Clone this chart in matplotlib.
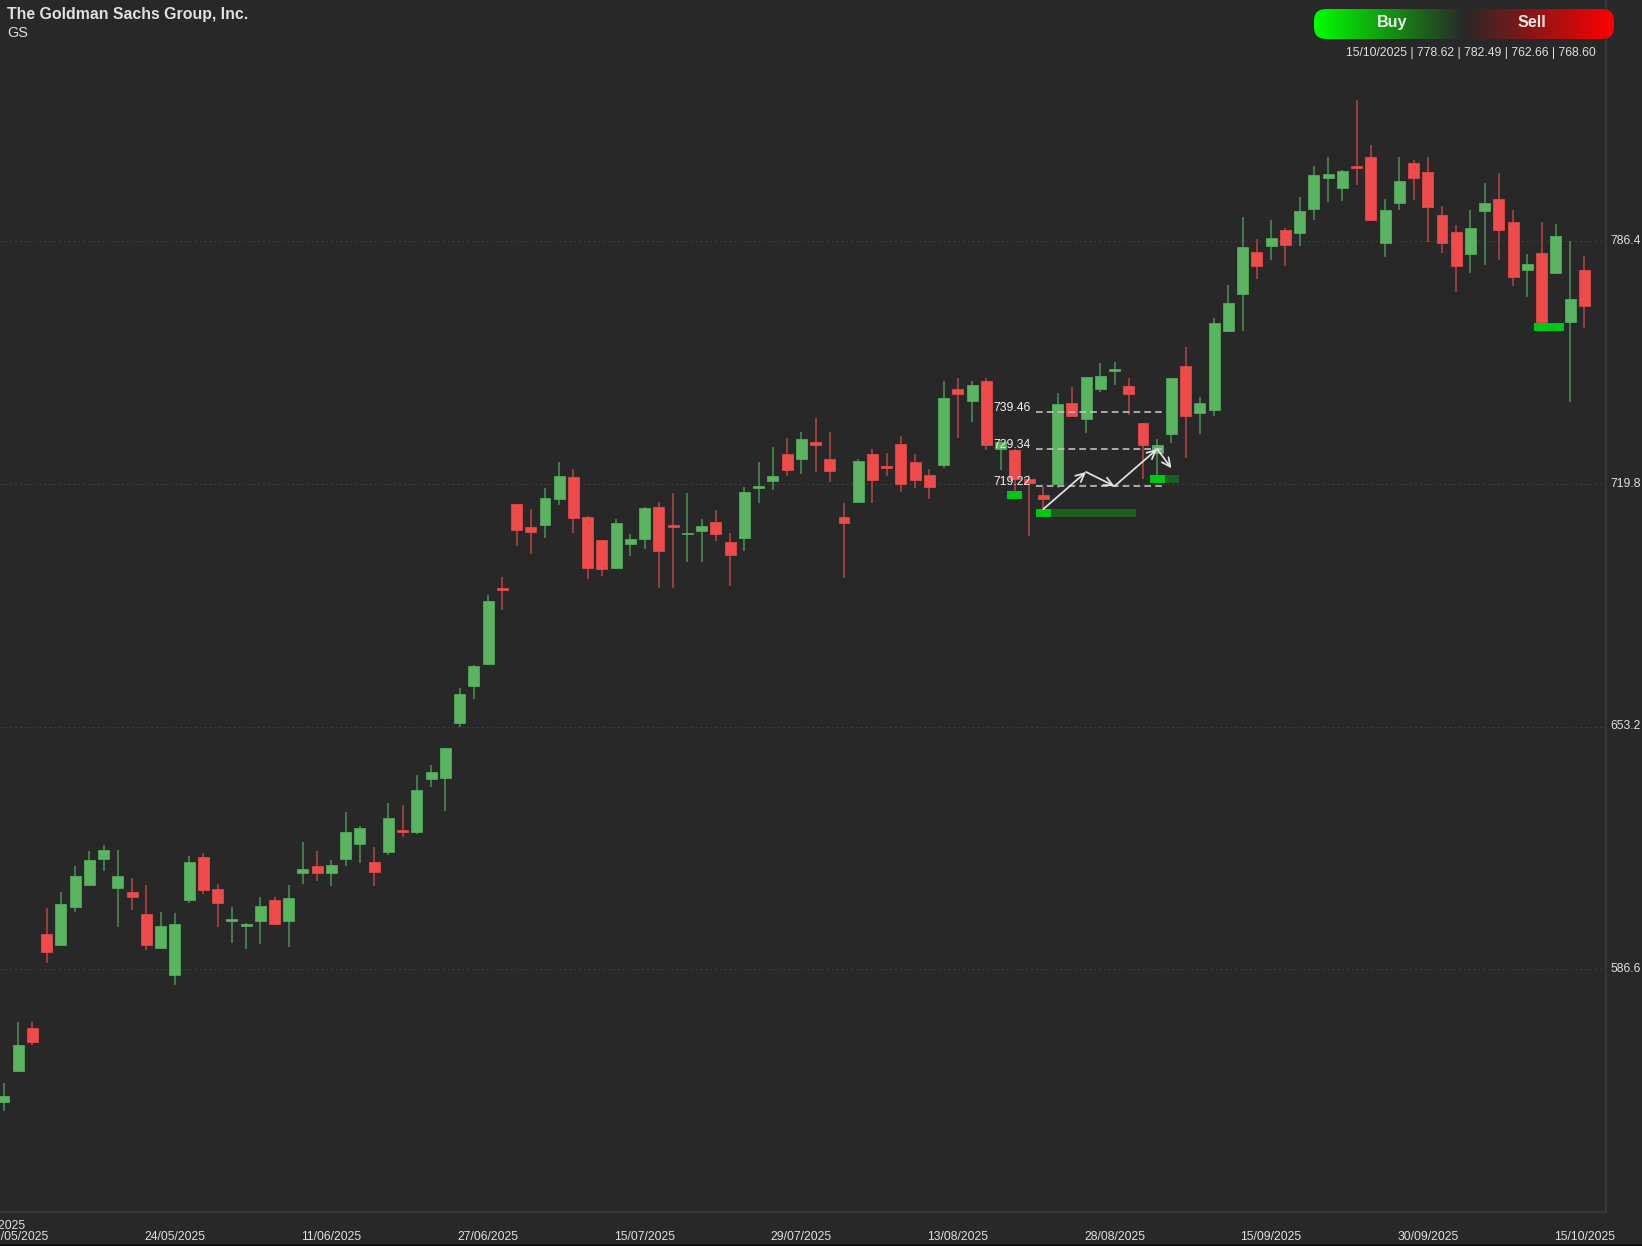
import matplotlib
matplotlib.use('Agg')
import matplotlib.pyplot as plt
import numpy as np
from matplotlib.patches import FancyBboxPatch, Rectangle
from matplotlib.transforms import ScaledTranslation

plt.rcParams['font.family'] = ['Liberation Sans', 'DejaVu Sans']

# candle data. colour is in the sign of close - open
opens = [550.1, 558.7, 570.4, 596.4, 593.2, 603.7, 609.6, 616.8, 609.0, 607.9,
         601.9, 592.5, 584.9, 605.7, 617.4, 608.6, 599.9, 598.5, 599.9, 605.6,
         599.9, 612.9, 614.9, 612.9, 617.0, 620.9, 616.1, 618.9, 624.8, 624.4,
         638.7, 639.1, 654.2, 664.4, 670.5, 691.2, 714.3, 708.1, 708.6, 715.8,
         721.7, 710.8, 704.4, 696.7, 703.4, 704.6, 713.4, 708.5, 706.1, 706.9,
         709.3, 703.8, 705.0, 718.8, 720.6, 728.0, 726.7, 731.2, 726.7, 710.6,
         714.9, 728.0, 724.6, 730.7, 725.9, 722.3, 725.1, 745.9, 742.5, 748.1,
         729.3, 729.2, 721.3, 716.7, 719.9, 741.9, 737.5, 745.8, 750.9, 746.8,
         736.4, 728.4, 733.6, 752.3, 739.3, 740.0, 761.7, 771.8, 783.5, 785.1,
         789.6, 788.7, 795.4, 803.9, 800.9, 807.1, 809.5, 785.8, 796.9, 807.9,
         805.5, 793.5, 788.9, 782.8, 794.8, 798.0, 791.8, 778.6, 783.1, 777.7,
         764.3, 778.62]
closes = [551.8, 565.8, 566.7, 591.3, 604.4, 612.1, 616.5, 619.3, 612.3, 606.4,
          593.3, 598.6, 598.9, 616.0, 608.3, 604.8, 600.4, 599.0, 604.1, 598.9,
          606.1, 614.0, 613.0, 615.2, 624.3, 625.5, 613.2, 628.0, 624.3, 635.7,
          640.8, 647.2, 662.1, 669.9, 687.7, 690.7, 707.3, 706.6, 716.0, 721.9,
          710.5, 696.7, 696.4, 709.1, 704.7, 713.3, 701.5, 708.1, 706.4, 708.3,
          706.1, 700.2, 717.6, 719.3, 722.1, 723.5, 732.1, 730.5, 723.4, 709.1,
          726.1, 720.9, 724.3, 719.8, 720.8, 719.1, 743.5, 744.6, 746.9, 730.4,
          731.2, 721.2, 720.2, 715.6, 741.8, 738.4, 749.2, 749.4, 751.3, 744.6,
          730.4, 730.4, 749.0, 738.4, 741.9, 763.9, 769.6, 784.7, 779.7, 787.3,
          785.4, 794.6, 804.7, 804.9, 805.8, 806.5, 792.2, 795.1, 802.9, 803.8,
          795.9, 785.9, 779.7, 790.1, 796.8, 789.5, 776.7, 780.3, 764.3, 787.9,
          770.7, 768.60]
highs = [555.3, 572.1, 572.1, 603.3, 607.7, 614.9, 619.2, 620.7, 619.4, 611.6,
         609.8, 602.2, 602.0, 617.7, 618.6, 610.0, 603.7, 599.2, 606.4, 606.4,
         609.7, 621.5, 619.1, 616.6, 629.8, 626.0, 620.1, 632.2, 631.7, 639.8,
         642.6, 647.2, 663.7, 670.0, 689.3, 694.2, 714.3, 712.9, 718.6, 725.9,
         723.9, 711.0, 704.4, 710.3, 706.0, 713.4, 714.8, 717.4, 717.4, 710.2,
         712.7, 706.4, 718.9, 725.7, 729.9, 732.4, 734.1, 737.9, 734.1, 714.5,
         726.7, 729.4, 728.3, 733.0, 728.0, 723.8, 748.0, 748.8, 748.0, 749.0,
         731.4, 729.3, 722.3, 719.1, 744.7, 746.5, 749.2, 752.9, 753.2, 748.9,
         736.4, 732.1, 749.0, 757.3, 743.6, 765.4, 774.3, 793.1, 786.9, 792.2,
         790.0, 798.5, 807.2, 809.5, 806.0, 825.2, 812.7, 798.1, 809.4, 808.7,
         809.4, 796.2, 790.8, 794.9, 802.3, 805.2, 794.9, 782.9, 791.7, 791.1,
         786.4, 782.49]
lows = [547.8, 558.3, 565.8, 588.2, 593.1, 602.4, 609.6, 613.6, 598.3, 602.9,
        592.0, 592.5, 582.4, 604.9, 607.3, 598.3, 593.8, 592.2, 593.6, 598.7,
        592.8, 610.0, 610.9, 609.5, 615.0, 615.8, 609.5, 618.1, 622.9, 623.6,
        636.7, 630.0, 653.2, 660.7, 670.5, 685.3, 702.8, 700.6, 705.1, 713.9,
        706.3, 693.7, 694.6, 696.6, 700.1, 702.0, 691.3, 691.3, 698.4, 698.4,
        704.1, 691.8, 701.4, 714.6, 718.1, 722.0, 722.4, 723.1, 720.3, 694.0,
        714.9, 714.5, 721.9, 717.5, 718.6, 715.7, 724.3, 732.4, 736.8, 729.2,
        723.6, 717.9, 705.6, 712.7, 718.6, 738.4, 733.9, 745.0, 747.0, 738.8,
        721.1, 722.3, 731.1, 727.0, 733.5, 738.5, 761.6, 761.9, 776.1, 781.3,
        779.6, 785.2, 792.2, 797.3, 797.5, 801.9, 792.2, 782.2, 795.1, 797.8,
        786.3, 783.2, 772.4, 777.8, 780.0, 781.3, 774.2, 771.2, 764.2, 777.7,
        742.4, 762.66]

price_ticks = [786.4, 719.8, 653.2, 586.6]
date_ticks = [1, 12, 23, 34, 45, 56, 67, 78, 89, 100, 111]
date_labels = ['09/05/2025', '24/05/2025', '11/06/2025', '27/06/2025', '15/07/2025',
               '29/07/2025', '13/08/2025', '28/08/2025', '15/09/2025', '30/09/2025',
               '15/10/2025']

# wave annotation
level_prices = [739.46, 729.34, 719.22]
wave_idx = [73, 76, 78, 81, 82]
wave_prices = [712.9, 723.1, 719.2, 729.4, 724.1]

# zones: left, split, right, bottom, top
zone_left = [72.49, 80.49, 70.45, 107.47]
zone_split = [73.54, 81.55, 71.5, 109.57]
zone_right = [79.51, 82.53, 71.5, 109.57]
zone_low = [710.7, 720.1, 715.7, 761.8]
zone_high = [712.9, 722.3, 717.9, 764.0]

BG = '#282828'
UP = '#59b55f'
DOWN = '#ef4b4b'
UP_WICK = '#4c9152'
DOWN_WICK = '#b84444'
TXT = '#e0e0e0'
W, H = 1642, 1246

fig = plt.figure(figsize=(W / 100, H / 100), dpi=100, facecolor=BG)
# plot area stops at the price scale and the date scale
ax = fig.add_axes([0, (H - 1212) / H, 1606 / W, 1212 / H], facecolor=BG)

opens, closes = np.array(opens), np.array(closes)
highs, lows = np.array(highs), np.array(lows)
x = np.arange(len(opens))
rising = closes >= opens

ax.vlines(x[rising], lows[rising], highs[rising], color=UP_WICK, lw=1.1, zorder=2)
ax.vlines(x[~rising], lows[~rising], highs[~rising], color=DOWN_WICK, lw=1.1, zorder=2)
ax.bar(x[rising], (closes - opens)[rising], 0.77, opens[rising], color=UP, edgecolor=UP, lw=0.5, zorder=3)
ax.bar(x[~rising], (closes - opens)[~rising], 0.77, opens[~rising], color=DOWN, edgecolor=DOWN, lw=0.5, zorder=3)

# pixel 0 is idx -0.28, pixel 1606 is idx 112.52
ax.set_xlim(-0.28, 112.52)
ax.set_ylim(786.4 - (1212 - 241.3) * 0.27445, 786.4 + 241.3 * 0.27445)

ax.set_yticks(price_ticks)
ax.set_yticklabels(price_ticks)
ax.yaxis.tick_right()
ax.set_xticks(date_ticks)
ax.set_xticklabels(date_labels)
ax.tick_params(axis='both', length=0, labelcolor=TXT, labelsize=8.7)
ax.tick_params(axis='y', pad=3.5)
ax.tick_params(axis='x', pad=13.5)
# price labels sit a little above their gridlines
up_shift = ScaledTranslation(0, 1.3 / 72, fig.dpi_scale_trans)
for lab in ax.get_yticklabels():
    lab.set_transform(lab.get_transform() + up_shift)
ax.grid(axis='y', color='#414141', lw=0.7, ls=(0, (2, 3)), zorder=1)
for s in ['top', 'left']:
    ax.spines[s].set_visible(False)
for s in ['right', 'bottom']:
    ax.spines[s].set_color('#3c3c3c')
    ax.spines[s].set_linewidth(1.2)

# zones sit behind the annotation
for l, s, r, lo, hi in zip(zone_left, zone_split, zone_right, zone_low, zone_high):
    ax.add_patch(Rectangle((l, lo), s - l, hi - lo, color='#00c814', lw=0, zorder=4))
    if r > s:
        ax.add_patch(Rectangle((s, lo), r - s, hi - lo, color='#1c5e20', lw=0, zorder=4))

for p in level_prices:
    ax.plot([72.49, 81.3], [p, p], color='#c0c0c0', lw=1.2, ls=(0, (4, 2.5)), zorder=5)
    ax.annotate(f'{p:.2f}', (72.49, p), xytext=(-4, 3), textcoords='offset points',
                ha='right', va='center', color='#f0f0f0', fontsize=8.7, zorder=6)

for i in range(len(wave_idx) - 1):
    ax.annotate('', xy=(wave_idx[i + 1], wave_prices[i + 1]), xytext=(wave_idx[i], wave_prices[i]),
                arrowprops=dict(arrowstyle='->,head_length=0.62,head_width=0.3', color='#e4e4e4',
                                lw=1.25, shrinkA=0, shrinkB=0), zorder=6)

# header, placed in figure pixels
def fx(px):
    return px / W

def fy(py):
    return 1 - py / H

fig.text(fx(7), fy(14), 'The Goldman Sachs Group, Inc.', color=TXT, fontsize=11.45, fontweight='bold', va='center')
fig.text(fx(7), fy(33), 'GS', color=TXT, fontsize=10.4, va='center')
fig.text(fx(26), fy(1226), '08/05/2025', color=TXT, fontsize=8.7, ha='right', va='center')
fig.text(fx(1596), fy(53), '15/10/2025 | 778.62 | 782.49 | 762.66 | 768.60', color=TXT, fontsize=8.7, ha='right', va='center')

# Buy/Sell pill
over = fig.add_axes([0, 0, 1, 1], facecolor='none')
over.set_xlim(0, W)
over.set_ylim(H, 0)
over.axis('off')
t = np.linspace(0, 1, 300)
green = np.array([0, 255, 0]) / 255
red = np.array([255, 0, 0]) / 255
mid = np.array([40, 40, 40]) / 255
grad = np.where(t[:, None] < 0.5, green + (mid - green) * t[:, None] * 2, mid + (red - mid) * (t[:, None] - 0.5) * 2)
im = over.imshow(grad[None, :, :], extent=(1314, 1614, 39, 9), aspect='auto', zorder=1)
pill = FancyBboxPatch((1314 + 12, 9 + 12), 300 - 24, 30 - 24, boxstyle='round,pad=12', transform=over.transData,
                      facecolor='none', edgecolor='none')
over.add_patch(pill)
im.set_clip_path(pill)
over.set_xlim(0, W)
over.set_ylim(H, 0)
over.text(1392, 22.5, 'Buy', color='#e8f2e8', fontsize=11.6, fontweight='bold', ha='center', va='center', zorder=2)
over.text(1532, 22.5, 'Sell', color='#f5e2e2', fontsize=11.6, fontweight='bold', ha='center', va='center', zorder=2)
# dark edge along the bottom of the window
over.axhline(1245.2, color='#0c0c0c', lw=1.2)

fig.savefig('out.png', dpi=100, facecolor=BG)
plt.close()
